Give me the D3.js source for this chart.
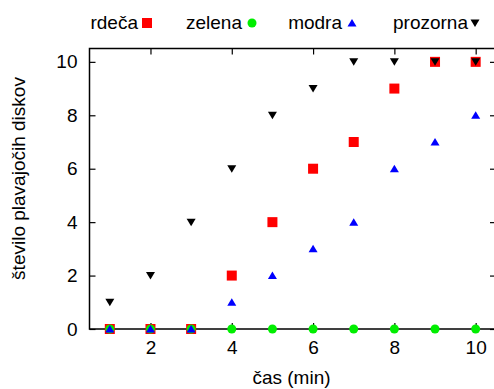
<!DOCTYPE html>
<html lang="en">
  <head>
    <meta charset="utf-8" />
    <title>Diski</title>
    <script src="https://d3js.org/d3.v7.min.js"></script>
    <style>
      body { margin: 0; background: #fff; }
      text { font-family: "Liberation Sans", Arial, sans-serif; }
    </style>
  </head>
  <body>
    <script>
      // minutes on x axis
      var casi = [1, 2, 3, 4, 5, 6, 7, 8, 9, 10];
      var rdeca = [0, 0, 0, 2, 4, 6, 7, 9, 10, 10];
      var zelena = [0, 0, 0, 0, 0, 0, 0, 0, 0, 0];
      var modra = [0, 0, 0, 1, 2, 3, 4, 6, 7, 8];
      var prozorna = [1, 2, 4, 6, 8, 9, 10, 10, 10, 10];
      var xTicks = [2, 4, 6, 8, 10];
      var yTicks = [0, 2, 4, 6, 8, 10];

      var series = [
        { name: "rdeča", values: rdeca, color: "#ff0000", shape: "square" },
        { name: "zelena", values: zelena, color: "#00ee00", shape: "circle" },
        { name: "modra", values: modra, color: "#0000ff", shape: "up" },
        { name: "prozorna", values: prozorna, color: "#000000", shape: "down" },
      ];

      var W = 494, H = 389;
      var fs = 19;
      var margin = { top: 48.5, right: -2, bottom: 60, left: 89.5 };
      var width = W - margin.left - margin.right,
        height = H - margin.top - margin.bottom;

      var x = d3.scaleLinear().domain([0.5, 10.5]).range([0, width]);
      var y = d3.scaleLinear().domain([0, 10.5]).range([height, 0]);

      var svg = d3
        .select("body")
        .append("svg")
        .attr("width", W)
        .attr("height", H);

      var g = svg
        .append("g")
        .attr("transform", "translate(" + margin.left + "," + margin.top + ")");

      // axes with inward ticks, gnuplot style
      var xAxis = d3.axisBottom(x).tickValues(xTicks).tickSize(-6).tickPadding(12);
      var yAxis = d3.axisLeft(y).tickValues(yTicks).tickSize(-6).tickPadding(12);

      g.append("g").attr("transform", "translate(0," + height + ")").call(xAxis);
      g.append("g").call(yAxis);
      g.append("g").call(d3.axisTop(x).tickValues(xTicks).tickSize(-6).tickFormat(""));
      g.append("g")
        .attr("transform", "translate(" + width + ",0)")
        .call(d3.axisRight(y).tickValues(yTicks).tickSize(-6).tickFormat(""));

      g.selectAll(".domain").remove();
      g.selectAll(".tick line").attr("stroke", "#000").attr("stroke-width", 1.2);
      g.selectAll(".tick text")
        .attr("font-size", fs)
        .attr("fill", "#000")
        .attr("font-family", "Liberation Sans, Arial, sans-serif");

      g.append("rect")
        .attr("width", width)
        .attr("height", height)
        .attr("fill", "none")
        .attr("stroke", "#000")
        .attr("stroke-width", 1.5);

      function marker(sel, shape, color) {
        if (shape === "square") {
          sel.append("rect").attr("x", -5).attr("y", -5).attr("width", 10).attr("height", 10).attr("fill", color);
        } else if (shape === "circle") {
          sel.append("circle").attr("r", 4.5).attr("fill", color);
        } else if (shape === "up") {
          sel.append("path").attr("d", "M-4.5,3.5L4.5,3.5L0,-4Z").attr("fill", color);
        } else {
          sel.append("path").attr("d", "M-4.5,-3.5L4.5,-3.5L0,4Z").attr("fill", color);
        }
      }

      series.forEach(function (s) {
        var pts = g
          .append("g")
          .selectAll("g")
          .data(casi.map(function (c, i) { return [c, s.values[i]]; }))
          .enter()
          .append("g")
          .attr("transform", function (d) {
            return "translate(" + x(d[0]) + "," + y(d[1]) + ")";
          });
        marker(pts, s.shape, s.color);
      });

      // legend along the top
      var legendX = [138, 242, 342, 468];
      var legendGap = [9, 10, 10, 7];
      series.forEach(function (s, i) {
        svg.append("text")
          .attr("x", legendX[i])
          .attr("y", 29)
          .attr("text-anchor", "end")
          .attr("font-size", fs)
          .text(s.name);
        var m = svg.append("g").attr("transform", "translate(" + (legendX[i] + legendGap[i]) + ",23)");
        marker(m, s.shape, s.color);
      });

      svg.append("text")
        .attr("x", 291.5)
        .attr("y", 384)
        .attr("text-anchor", "middle")
        .attr("font-size", fs)
        .text("čas (min)");

      svg.append("text")
        .attr("transform", "translate(25,178.5) rotate(-90)")
        .attr("text-anchor", "middle")
        .attr("font-size", fs)
        .text("število plavajočih diskov");
    </script>
  </body>
</html>
